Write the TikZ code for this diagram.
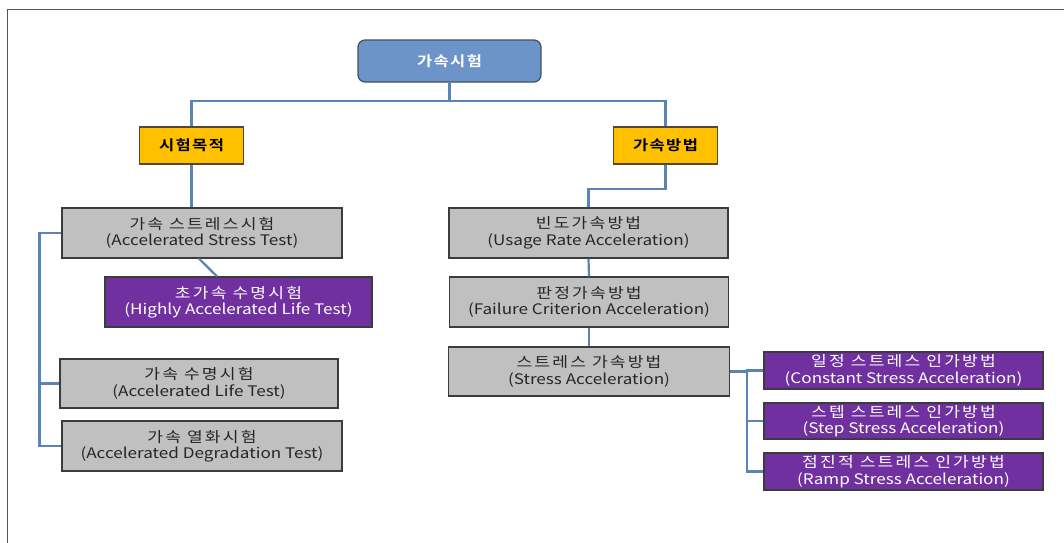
\documentclass[tikz,border=0pt]{standalone}
\usepackage{fontspec}
\setmainfont[FakeStretch=1.18]{Noto Sans CJK KR}
\newfontfamily\kr[FakeStretch=1.18,LetterSpace=15]{Noto Sans CJK KR}
\newfontfamily\krb[FakeStretch=1.18,LetterSpace=10]{Noto Sans CJK KR Bold}
\usetikzlibrary{calc}
\definecolor{conn}{HTML}{5A84B5}
\definecolor{topfill}{HTML}{6C94C8}
\definecolor{topdraw}{HTML}{44505E}
\definecolor{goldfill}{HTML}{FFC000}
\definecolor{golddraw}{HTML}{5A4630}
\definecolor{greyfill}{HTML}{C0C0C0}
\definecolor{boxdraw}{HTML}{3C3C3C}
\definecolor{purplefill}{HTML}{7030A0}
\definecolor{framec}{HTML}{555555}
\definecolor{txt}{HTML}{262626}
\tikzset{
  box/.style={draw=boxdraw, line width=1.2pt, inner sep=0pt, align=center,
    font=\fontsize{14.5}{16.5}\selectfont},
  topbox/.style={box, fill=topfill, draw=topdraw, rounded corners=7pt, text=white,
    font=\fontsize{14}{16}\selectfont\krb},
  goldbox/.style={box, fill=goldfill, draw=golddraw, text=black,
    font=\fontsize{14}{16}\selectfont\krb},
  greybox/.style={box, fill=greyfill, text=txt},
  purplebox/.style={box, fill=purplefill, text=white},
  link/.style={draw=conn, line width=2.2pt},
}
\begin{document}
\begin{tikzpicture}[x=1pt, y=-1pt]
\useasboundingbox[fill=white] (0,0) rectangle (1064,542);
\draw[framec, line width=1.2pt] (7.5,545) -- (7.5,9.5) -- (1066,9.5);

% top levels
\node[topbox, minimum width=183pt, minimum height=42pt] (top) at (449.5,61) {가속시험};
\node[goldbox, minimum width=104pt, minimum height=37pt] (purpose) at (191.5,145.5) {시험목적};
\node[goldbox, minimum width=104pt, minimum height=37pt] (method) at (665.5,145.5) {가속방법};

% left column
\node[greybox, minimum width=280pt, minimum height=50pt] (ast) at (202,233) {{\kr 가속 스트레스시험}\\(Accelerated Stress Test)};
\node[purplebox, minimum width=267pt, minimum height=50pt] (halt) at (238.5,302) {{\kr 초가속 수명시험}\\(Highly Accelerated Life Test)};
\node[greybox, minimum width=278pt, minimum height=49pt] (alt) at (199,383.5) {{\kr 가속 수명시험}\\(Accelerated Life Test)};
\node[greybox, minimum width=280pt, minimum height=50pt] (adt) at (202,446) {{\kr 가속 열화시험}\\(Accelerated Degradation Test)};

% right column
\node[greybox, minimum width=279pt, minimum height=50pt] (ura) at (588.5,233) {{\kr 빈도가속방법}\\(Usage Rate Acceleration)};
\node[greybox, minimum width=279pt, minimum height=50pt] (fca) at (589,302) {{\kr 판정가속방법}\\(Failure Criterion Acceleration)};
\node[greybox, minimum width=281pt, minimum height=49pt] (sa) at (589,371.5) {{\kr 스트레스 가속방법}\\(Stress Acceleration)};

\node[purplebox, minimum width=279pt, minimum height=37pt] (csa) at (903.5,370.5) {{\kr 일정 스트레스 인가방법}\\(Constant Stress Acceleration)};
\node[purplebox, minimum width=279pt, minimum height=36pt] (ssa) at (903.5,421) {{\kr 스텝 스트레스 인가방법}\\(Step Stress Acceleration)};
\node[purplebox, minimum width=279pt, minimum height=37pt] (rsa) at (903.5,471.5) {{\kr 점진적 스트레스 인가방법}\\(Ramp Stress Acceleration)};

% connectors
\coordinate (j) at (449.5,101);
\draw[link] (top.south) -- (j);
\draw[link] (purpose.north) |- (j) -| (method.north);
\draw[link] (purpose.south) -- (purpose.south |- ast.north);
\draw[link] (method.south) -- ++(0,24) -| (ura.north);
\draw[link] (ura.south) -- (fca.north);
\draw[link] (fca.south) -- (sa.north);
\draw[link] ([xshift=-3pt]ast.south) -- ([xshift=-21.5pt]halt.north);
\draw[link] (ast.west) -- ++(-22,0) |- (adt.west);
\draw[link] (alt.west) -- ++(-20,0);
\coordinate (rb) at (747,371.5);
\draw[link] (sa.east) -- (rb) |- (rsa.west);
\draw[link] (rb) |- (csa.west);
\draw[link] (rb |- ssa.west) -- (ssa.west);
\end{tikzpicture}
\end{document}
